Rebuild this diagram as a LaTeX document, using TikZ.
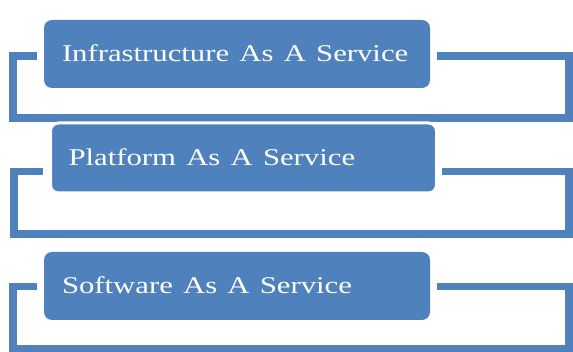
\documentclass[tikz,border=0pt]{standalone}
\usepackage{fontspec}
\setmainfont{Liberation Serif}
\definecolor{svcblue}{HTML}{4F81BD}
\newcommand{\svctext}[1]{\scalebox{1.28}[1]{#1}}

\begin{document}
\begin{tikzpicture}[x=1pt, y=-1pt,
   every node/.style={rectangle, rounded corners=8pt, fill=svcblue, text=white,
       font=\fontsize{24}{24}\selectfont, minimum height=68pt, text width=350pt,
       inner xsep=18pt, text height=16pt, text depth=0pt, align=left},
   bracket/.style={draw=svcblue, line width=7.5pt, line join=miter}]

\useasboundingbox (0,0) rectangle (573,352);

% bracket ends and corners
\coordinate (iaas-l) at (37,56);   \coordinate (iaas-r) at (437,56);
\coordinate (iaas-bl) at (13,118); \coordinate (iaas-br) at (569,118);
\coordinate (paas-l) at (43,171.5); \coordinate (paas-r) at (442,171.5);
\coordinate (paas-bl) at (14,234);  \coordinate (paas-br) at (569,234);
\coordinate (saas-l) at (37,286.5); \coordinate (saas-r) at (437,286.5);
\coordinate (saas-bl) at (13,349);  \coordinate (saas-br) at (569,349);

\draw[bracket] (iaas-l) -| (iaas-bl) -- (iaas-br) |- (iaas-r);
\draw[bracket] (paas-l) -| (paas-bl) -- (paas-br) |- (paas-r);
\draw[bracket] (saas-l) -| (saas-bl) -- (saas-br) |- (saas-r);

\node (iaas) at (237,54) {\svctext{Infrastructure As A Service}};
\node[draw=white, line width=3pt, minimum height=70pt] (paas) at (243.5,158) {\svctext{Platform As A Service}};
\node (saas) at (237,286) {\svctext{Software As A Service}};

\end{tikzpicture}
\end{document}
